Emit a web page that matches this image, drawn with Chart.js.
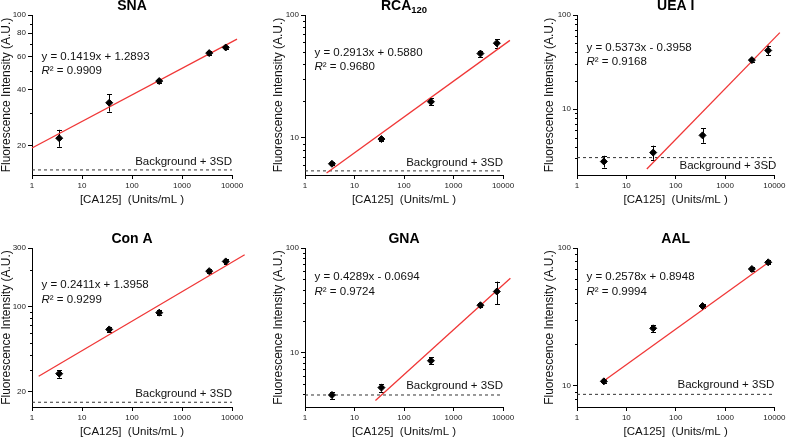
<!DOCTYPE html>
<html>
<head>
<meta charset="utf-8">
<script src="https://cdn.jsdelivr.net/npm/chart.js@4.4.1/dist/chart.umd.min.js"></script>
<style>
  html, body { margin: 0; padding: 0; background: #fff; }
  #wrap { position: relative; width: 787px; height: 439px; }
  #wrap canvas { position: absolute; }
</style>
</head>
<body>
<div id="wrap"></div>
<script>
// Shared x values (CA125 concentrations) and x tick labels
const concentrations = [3.5, 35, 350, 3500, 7500];
const xTicks = [1, 10, 100, 1000, 10000];

const lectins = ['SNA', 'RCA', 'UEA I', 'Con A', 'GNA', 'AAL'];
const lectinSubs = ['', '120', '', '', '', ''];

// Mean intensity and error bar ends for each lectin
const snaMean = [22.0, 34.0, 44.4, 62.6, 67.1];
const snaLow = [19.8, 30.5, 43.4, 61.2, 65.6];
const snaHigh = [24.4, 37.8, 45.4, 64.0, 68.6];

const rcaMean = [6.17, 9.8, 19.7, 48.6, 59.0];
const rcaLow = [6.0, 9.5, 18.5, 45.9, 54.4];
const rcaHigh = [6.35, 10.1, 21.0, 51.4, 63.6];

const ueaMean = [2.78, 3.46, 5.27, 33.2, 42.0];
const ueaLow = [2.4, 2.9, 4.4, 31.6, 37.2];
const ueaHigh = [3.2, 4.1, 6.25, 34.8, 47.4];

const conaMean = [28.1, 64.7, 88.7, 194, 233];
const conaLow = [26.0, 62.0, 85.0, 186, 223];
const conaHigh = [30.0, 67.5, 92.5, 202, 243];

const gnaMean = [3.91, 4.6, 8.32, 28.3, 38.3];
const gnaLow = [3.6, 4.2, 7.78, 27.2, 29.0];
const gnaHigh = [4.19, 5.0, 8.97, 29.5, 47.7];

const aalMean = [10.75, 26.1, 37.9, 70.4, 78.7];
const aalLow = [10.4, 24.7, 36.5, 68.0, 76.0];
const aalHigh = [11.1, 27.5, 39.3, 72.8, 81.4];

// Fit line ends as drawn
const fitStartX = [1, 2.73, 26, 1.36, 26.5, 3.1];
const fitStartY = [19.5, 5.19, 2.32, 26.8, 3.47, 10.5];
const fitEndX = [12600, 13800, 12900, 17900, 14100, 8200];
const fitEndY = [74.3, 62.2, 65.0, 264, 51.3, 80.0];

const equations = ['y = 0.1419x + 1.2893', 'y = 0.2913x + 0.5880', 'y = 0.5373x - 0.3958',
                   'y = 0.2411x + 1.3958', 'y = 0.4289x - 0.0694', 'y = 0.2578x + 0.8948'];
const rSquared = ['0.9909', '0.9680', '0.9168', '0.9299', '0.9724', '0.9994'];

// Background + 3SD level
const bgLevel = [14.9, 5.4, 3.06, 16.4, 3.91, 8.65];

// y axis ranges and ticks
const yMin = [14, 5, 2, 15, 3, 7];
const yMax = [100, 100, 100, 300, 100, 100];
const snaTicks = [20, 40, 60, 80, 100];
const decadeTicks = [10, 100];
const conaTicks = [20, 100, 300];
const snaMinor = [30, 50, 70, 90];
const rcaMinor = [6, 7, 8, 9, 20, 30, 40, 50, 60, 70, 80, 90];
const ueaMinor = [3, 4, 5, 6, 7, 8, 9, 20, 30, 40, 50, 60, 70, 80, 90];
const conaMinor = [30, 40, 50, 60, 70, 80, 90, 200];
const gnaMinor = [4, 5, 6, 7, 8, 9, 20, 30, 40, 50, 60, 70, 80, 90];
const aalMinor = [8, 9, 20, 30, 40, 50, 60, 70, 80, 90];

const meanSets = [snaMean, rcaMean, ueaMean, conaMean, gnaMean, aalMean];
const lowSets = [snaLow, rcaLow, ueaLow, conaLow, gnaLow, aalLow];
const highSets = [snaHigh, rcaHigh, ueaHigh, conaHigh, gnaHigh, aalHigh];
const majorSets = [snaTicks, decadeTicks, decadeTicks, conaTicks, decadeTicks, decadeTicks];
const minorSets = [snaMinor, rcaMinor, ueaMinor, conaMinor, gnaMinor, aalMinor];

// Layout of the 2x3 grid (pixels)
const colX = [0, 262, 524];
const colW = [262, 262, 263];
const rowY = [0, 220];
const rowH = [220, 219];
const plotLeft = [32, 305, 577];
const plotRight = [232, 503, 776];
const plotTop = [15, 248];
const plotBottom = [175, 407];
const yAxisW = [32, 33, 34];
const xAxisH = 32;
const eqDy = [41.7, 37.4, 32.4, 37.3, 29.3, 29.3];
const bgLabelDy = [-8, -8, 8, -8.7, -8.7, -9.3];

Chart.defaults.font.family = "'Liberation Sans', Arial, sans-serif";
Chart.defaults.color = '#111';

// Error bars, minor ticks and the text inside each panel
const panelExtras = {
    id: 'panelExtras',
    beforeDatasetsDraw(chart, args, opts) {
        const i = opts.index;
        const { ctx, scales } = chart;
        ctx.save();
        ctx.strokeStyle = '#000';
        ctx.lineWidth = 1;
        concentrations.forEach((c, k) => {
            const x = Math.round(scales.x.getPixelForValue(c)) + 0.5;
            const yl = scales.y.getPixelForValue(lowSets[i][k]);
            const yh = scales.y.getPixelForValue(highSets[i][k]);
            ctx.beginPath();
            ctx.moveTo(x, yl); ctx.lineTo(x, yh);
            ctx.moveTo(x - 2.5, Math.round(yl) + 0.5); ctx.lineTo(x + 2.5, Math.round(yl) + 0.5);
            ctx.moveTo(x - 2.5, Math.round(yh) + 0.5); ctx.lineTo(x + 2.5, Math.round(yh) + 0.5);
            ctx.stroke();
        });
        ctx.restore();
    },
    afterDraw(chart, args, opts) {
        const i = opts.index;
        const { ctx, chartArea, scales } = chart;
        ctx.save();
        // minor ticks on the y axis
        ctx.strokeStyle = '#000';
        ctx.lineWidth = 1;
        minorSets[i].forEach(v => {
            const y = Math.round(scales.y.getPixelForValue(v)) + 0.5;
            ctx.beginPath();
            ctx.moveTo(chartArea.left - 2, y);
            ctx.lineTo(chartArea.left, y);
            ctx.stroke();
        });

        // panel title, with optional subscript
        const cx = (chartArea.left + chartArea.right) / 2;
        const ty = chartArea.top - 8.5;
        ctx.fillStyle = '#000';
        ctx.textBaseline = 'middle';
        ctx.font = "bold 14px 'Liberation Sans', Arial, sans-serif";
        const mainW = ctx.measureText(lectins[i]).width;
        let subW = 0;
        if (lectinSubs[i]) {
            ctx.font = "bold 9.5px 'Liberation Sans', Arial, sans-serif";
            subW = ctx.measureText(lectinSubs[i]).width;
        }
        const tx = cx - (mainW + subW) / 2;
        ctx.textAlign = 'left';
        ctx.font = "bold 14px 'Liberation Sans', Arial, sans-serif";
        ctx.fillText(lectins[i], tx, ty);
        if (lectinSubs[i]) {
            ctx.font = "bold 9.5px 'Liberation Sans', Arial, sans-serif";
            ctx.fillText(lectinSubs[i], tx + mainW, ty + 4);
        }

        // fit equation and R squared
        const ex = chartArea.left + 9.5;
        const ey = chartArea.top + eqDy[i];
        ctx.fillStyle = '#111';
        ctx.font = "11.5px 'Liberation Sans', Arial, sans-serif";
        ctx.fillText(equations[i], ex, ey);
        ctx.font = "italic 11.5px 'Liberation Sans', Arial, sans-serif";
        ctx.fillText('R', ex, ey + 14.5);
        const rW = ctx.measureText('R').width;
        ctx.font = "11.5px 'Liberation Sans', Arial, sans-serif";
        ctx.fillText('\u00B2 = ' + rSquared[i], ex + rW, ey + 14.5);

        // background label
        ctx.textAlign = 'right';
        const by = scales.y.getPixelForValue(bgLevel[i]) + bgLabelDy[i];
        ctx.fillText('Background + 3SD', chartArea.right + (i === 2 ? 2 : 0), by);
        ctx.restore();
    }
};

const wrap = document.getElementById('wrap');

for (let i = 0; i < 6; i++) {
    const col = i % 3;
    const row = Math.floor(i / 3);
    const canvas = document.createElement('canvas');
    canvas.width = colW[col];
    canvas.height = rowH[row];
    canvas.style.left = colX[col] + 'px';
    canvas.style.top = rowY[row] + 'px';
    canvas.style.width = colW[col] + 'px';
    canvas.style.height = rowH[row] + 'px';
    wrap.appendChild(canvas);

    const points = concentrations.map((c, k) => ({ x: c, y: meanSets[i][k] }));
    const fit = [{ x: fitStartX[i], y: fitStartY[i] }, { x: fitEndX[i], y: fitEndY[i] }];
    const bg = [{ x: xTicks[0], y: bgLevel[i] }, { x: xTicks[xTicks.length - 1], y: bgLevel[i] }];

    const padding = {
        left: plotLeft[col] - colX[col] - yAxisW[col],
        right: colX[col] + colW[col] - plotRight[col],
        top: plotTop[row] - rowY[row],
        bottom: rowY[row] + rowH[row] - plotBottom[row] - xAxisH
    };

    new Chart(canvas, {
        type: 'scatter',
        data: {
            datasets: [{
                data: points,
                pointStyle: 'rectRot',
                pointRadius: 3.5,
                backgroundColor: '#000',
                borderColor: '#000',
                borderWidth: 1,
                order: 0
            }, {
                type: 'line',
                data: fit,
                borderColor: 'rgb(240,55,55)',
                borderWidth: 1.3,
                pointRadius: 0,
                clip: false,
                order: 1
            }, {
                type: 'line',
                data: bg,
                borderColor: '#333',
                borderWidth: 1,
                borderDash: [3, 3],
                pointRadius: 0,
                order: 2
            }]
        },
        options: {
            responsive: false,
            animation: false,
            events: [],
            layout: { padding: padding },
            plugins: {
                legend: { display: false },
                tooltip: { enabled: false },
                panelExtras: { index: i }
            },
            scales: {
                x: {
                    type: 'logarithmic',
                    min: xTicks[0],
                    max: xTicks[xTicks.length - 1],
                    afterBuildTicks: s => { s.ticks = xTicks.map(v => ({ value: v })); },
                    afterFit: s => { s.height = xAxisH; },
                    ticks: {
                        callback: v => String(v),
                        font: { size: 8 },
                        color: '#222',
                        padding: 1.5,
                        maxRotation: 0,
                        autoSkip: false
                    },
                    grid: { drawOnChartArea: false, tickLength: 4, tickColor: '#000' },
                    border: { color: '#000', width: 1 },
                    title: {
                        display: true,
                        text: '[CA125]  (Units/mL )',
                        font: { size: 11.5, lineHeight: 1.2 },
                        color: '#111',
                        padding: { top: 0, bottom: 0 }
                    }
                },
                y: {
                    type: 'logarithmic',
                    min: yMin[i],
                    max: yMax[i],
                    afterBuildTicks: s => { s.ticks = majorSets[i].map(v => ({ value: v })); },
                    afterFit: s => { s.width = yAxisW[col]; },
                    ticks: {
                        callback: v => String(v),
                        font: { size: 8 },
                        color: '#222',
                        padding: 2,
                        autoSkip: false
                    },
                    grid: { drawOnChartArea: false, tickLength: 4, tickColor: '#000' },
                    border: { color: '#000', width: 1 },
                    title: {
                        display: true,
                        text: 'Fluorescence Intensity (A.U.)',
                        font: { size: 12, lineHeight: 1.1 },
                        color: '#111',
                        padding: { top: 0, bottom: 0 }
                    }
                }
            }
        },
        plugins: [panelExtras]
    });
}
</script>
</body>
</html>
